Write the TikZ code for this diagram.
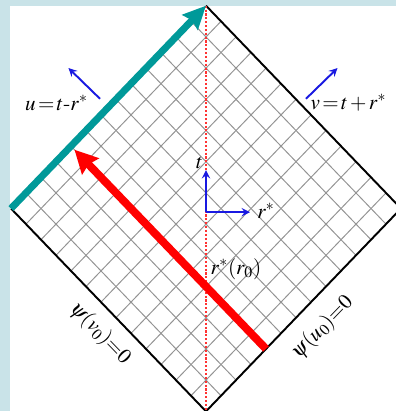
\documentclass[tikz,border=0pt]{standalone}
\usepackage{amsmath,amssymb}
\usepackage{mathptmx}
\usetikzlibrary{arrows.meta}
\definecolor{bgblue}{RGB}{201,227,232}
\definecolor{tealc}{RGB}{0,153,153}
\definecolor{axblue}{RGB}{25,25,225}
\tikzset{gridline/.style={gray!85,line width=0.55pt},
  axarrow/.style={axblue,line width=1.1pt,->}}
\begin{document}
\begin{tikzpicture}[>=stealth,yscale=1.04,font=\fontsize{12}{14}\selectfont]
  \useasboundingbox (-4.12,-3.894) rectangle (3.8,4.01);
  \fill[bgblue] (-4.12,-3.894) rectangle (3.8,4.01);
  \fill[white] (-3.92,-3.894) rectangle (3.8,3.894);
  \foreach \k in {1,...,12} {
    \pgfmathsetmacro\gc{-3.9+0.6*\k}
    \draw[gridline] ({(\gc-3.9)/2},{(\gc+3.9)/2}) -- ({(\gc+3.9)/2},{(\gc-3.9)/2});
    \draw[gridline] ({(\gc-3.9)/2},{-(\gc+3.9)/2}) -- ({(\gc+3.9)/2},{-(\gc-3.9)/2});
  }
  \coordinate (top) at (0,3.9);
  \coordinate (bot) at (0,-3.9);
  \coordinate (lft) at (-3.9,0);
  \coordinate (rgt) at (3.9,0);
  \draw[line width=1.1pt] (lft) -- (bot) -- (rgt) -- (top);
  \draw[red!80,densely dotted,line width=1.2pt] (top) -- (bot);
  \coordinate (O) at (0,-0.07);
  \coordinate (ttip) at (0,0.74);
  \coordinate (rtip) at (0.88,-0.07);
  \draw[axarrow] (O) -- (ttip);
  \draw[axarrow] (O) -- (rtip);
  \node (tl) at (-0.13,0.875) {$t$};
  \node (rl) at (1.2,-0.04) {$r^*$};
  \node (r0) at (0.6,-1.16) {$r^*(r_0)$};
  \coordinate (ua) at (-2.12,2.11);
  \coordinate (ub) at (-2.75,2.70);
  \coordinate (va) at (2.0,2.11);
  \coordinate (vb) at (2.63,2.70);
  \draw[axarrow] (ua) -- (ub);
  \draw[axarrow] (va) -- (vb);
  \node (ul) at (-2.99,2.03) {$u\,{=}\,t$-$r^*$};
  \node (vl) at (2.85,2.04) {$v\,{=}\,t\,{+}\,r^*$};
  \node[rotate=-46] (pv) at (-2.12,-2.4) {$\psi(v_0){=}0$};
  \node[rotate=46] (pu) at (2.33,-2.29) {$\psi(u_0){=}0$};
  \coordinate (rs) at (1.2,-2.7);
  \coordinate (re) at (-2.63,1.13);
  \draw[red,line width=4.5pt,-{Stealth[length=13pt,width=13pt,inset=1.5pt]}] (rs) -- (re);
  \draw[tealc,line width=4pt,-{Stealth[length=13pt,width=12pt,inset=1.5pt]}] (lft) -- (top);
\end{tikzpicture}
\end{document}
